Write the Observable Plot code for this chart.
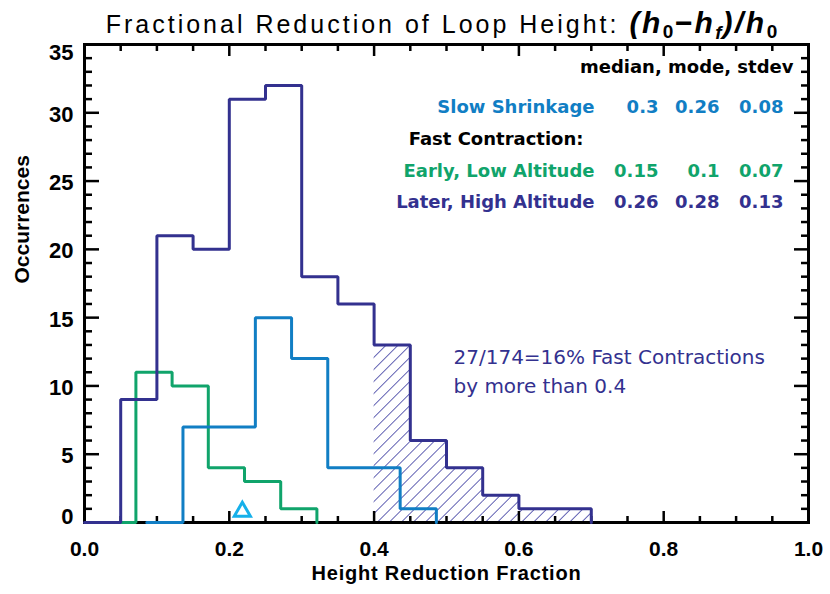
<!DOCTYPE html>
<html>
<head>
<meta charset="utf-8">
<script src="https://cdn.jsdelivr.net/npm/d3@7"></script>
<script src="https://cdn.jsdelivr.net/npm/@observablehq/plot@0.6"></script>
<style>
  html, body { margin: 0; padding: 0; background: #fff; }
  #title {
    width: 830px; height: 40px; box-sizing: border-box;
    padding-top: 9px;
    text-align: center; font-family: "Liberation Sans", Arial, sans-serif;
    font-size: 25px; letter-spacing: 3px; color: #000; line-height: 28px;
    position: relative; left: 27px; overflow: visible; white-space: nowrap;
  }
  #title .f { font-style: italic; font-weight: bold; font-size: 30px; letter-spacing: 2.5px; }
  #title .s { font-size: 19px; position: relative; top: 5px; font-style: normal; letter-spacing: 1px; }
  #title .sf { font-size: 19px; position: relative; top: 6px; letter-spacing: 1px; }
  #chart svg { display: block; }
  #chart { height: 554px; overflow: hidden; }
</style>
</head>
<body>
<div id="title">Fractional Reduction of Loop Height: <span class="f">(h<span class="s">0</span>−h<span class="sf">f</span>)/h<span class="s">0</span></span></div>
<div id="chart"></div>
<script>
// ---- data ----
const laterEdges  = [0.00, 0.05, 0.10, 0.15, 0.20, 0.25, 0.30, 0.35, 0.40, 0.45, 0.50, 0.55, 0.60, 0.65, 0.70];
const laterCounts = [0, 9, 21, 20, 31, 32, 18, 16, 13, 6, 4, 2, 1, 1];
const earlyEdges  = [0.021, 0.071, 0.121, 0.171, 0.221, 0.271, 0.321];
const earlyCounts = [0, 11, 10, 4, 3, 1];
const slowEdges   = [0.086, 0.136, 0.186, 0.236, 0.286, 0.336, 0.386, 0.436, 0.486];
const slowCounts  = [0, 7, 7, 15, 12, 4, 4, 1];
const markerX = [0.218];
const markerY = [0.8];
const fastThreshold = 0.4;

const statHeader = "median, mode, stdev";
const groupNames = ["Slow Shrinkage", "Early, Low Altitude", "Later, High Altitude"];
const medians = [0.3, 0.15, 0.26];
const modes   = [0.26, 0.1, 0.28];
const stdevs  = [0.08, 0.07, 0.13];
const fastHeader = "Fast Contraction:";

const xTickLabels = [0.0, 0.2, 0.4, 0.6, 0.8, 1.0];
const yTickLabels = [0, 5, 10, 15, 20, 25, 30, 35];

const cLater = "#33318f", cSlow = "#117ec4", cEarly = "#10a46b", cMarker = "#16b0ea";

// ---- derived tables ----
function steps(edges, counts) {
  const pts = counts.map((c, i) => ({x: edges[i], y: c}));
  pts.push({x: edges[edges.length - 1], y: 0});
  return pts;
}
const laterBins = laterCounts.map((c, i) => ({x1: laterEdges[i], x2: laterEdges[i + 1], y: c}));
const hatchBins = laterBins.filter(b => b.x1 >= fastThreshold);
const fastN = d3.sum(hatchBins, b => b.y);
const totalN = d3.sum(laterCounts);
const note1 = `${fastN}/${totalN}=${Math.round(100 * fastN / totalN)}% Fast Contractions`;
const note2 = `by more than ${fastThreshold}`;

const xMinor = d3.range(0, 1.0001, 0.05).filter(v => !xTickLabels.some(t => Math.abs(t - v) < 1e-9));
const yMinor = d3.range(0, 35.5, 1).filter(v => v % 5 !== 0);

const legendFont = {fontFamily: "DejaVu Sans, Verdana, sans-serif", fontWeight: "bold", fontSize: 18};
const rowDy = [63.2, 127.2, 158.2];
const rowColor = [cSlow, cEarly, cLater];
const colDx = [-150, -89, -25];
const legendMarks = [];
legendMarks.push(Plot.text([statHeader], {text: d => d, frameAnchor: "top-right", textAnchor: "end", lineAnchor: "middle", dx: -15, dy: 23.2, fill: "#000", ...legendFont}));
legendMarks.push(Plot.text([fastHeader], {text: d => d, frameAnchor: "top-right", textAnchor: "end", lineAnchor: "middle", dx: -225, dy: 95.2, fill: "#000", ...legendFont}));
groupNames.forEach((g, i) => {
  legendMarks.push(Plot.text([g], {text: d => d, frameAnchor: "top-right", textAnchor: "end", lineAnchor: "middle", dx: -214, dy: rowDy[i], fill: rowColor[i], ...legendFont}));
  [medians[i], modes[i], stdevs[i]].forEach((v, j) => {
    legendMarks.push(Plot.text([v], {text: d => String(d), frameAnchor: "top-right", textAnchor: "end", lineAnchor: "middle", dx: colDx[j], dy: rowDy[i], fill: rowColor[i], ...legendFont}));
  });
});

const tickStyle = {fill: "none", label: null, stroke: "#000", strokeWidth: 2.5};
const labelFont = {fontFamily: "Liberation Sans, Arial, sans-serif", fontWeight: "bold", fontSize: 21};

const chart = Plot.plot({
  width: 830,
  height: 554,
  marginLeft: 84,
  marginRight: 22,
  marginTop: 4,
  marginBottom: 72,
  x: {domain: [0, 1], axis: null},
  y: {domain: [0, 35], axis: null},
  style: {background: "#fff", overflow: "visible"},
  marks: [
    // hatched region (fast contractions > 0.4)
    Plot.rectY(hatchBins, {x1: "x1", x2: "x2", y: "y", fill: "url(#hatch)", inset: 0}),
    // frame + inward ticks (drawn under the histograms)
    Plot.frame({stroke: "#000", strokeWidth: 3}),
    Plot.axisX(xTickLabels, {anchor: "bottom", tickSize: -11, ...tickStyle}),
    Plot.axisX(xMinor, {anchor: "bottom", tickSize: -6, ...tickStyle}),
    Plot.axisX(xTickLabels, {anchor: "top", tickSize: -11, ...tickStyle}),
    Plot.axisX(xMinor, {anchor: "top", tickSize: -6, ...tickStyle}),
    Plot.axisY(yTickLabels, {anchor: "left", tickSize: -15, ...tickStyle}),
    Plot.axisY(yMinor, {anchor: "left", tickSize: -8, ...tickStyle}),
    Plot.axisY(yTickLabels, {anchor: "right", tickSize: -15, ...tickStyle}),
    Plot.axisY(yMinor, {anchor: "right", tickSize: -8, ...tickStyle}),
    // histograms
    Plot.line(steps(earlyEdges, earlyCounts), {x: "x", y: "y", curve: "step-after", stroke: cEarly, strokeWidth: 3, strokeLinejoin: "miter"}),
    Plot.line(steps(slowEdges, slowCounts), {x: "x", y: "y", curve: "step-after", stroke: cSlow, strokeWidth: 3, strokeLinejoin: "miter"}),
    Plot.line(steps(laterEdges, laterCounts), {x: "x", y: "y", curve: "step-after", stroke: cLater, strokeWidth: 3, strokeLinejoin: "miter"}),
    // marker
    Plot.dot(markerX.map((x, i) => ({x, y: markerY[i]})), {x: "x", y: "y", symbol: "triangle", r: 6, stroke: cMarker, strokeWidth: 3, fill: "none"}),
    // tick labels
    Plot.axisX(xTickLabels, {anchor: "bottom", tickSize: 0, tickPadding: 18.5, tickFormat: d3.format(".1f"), label: null, fill: "#000", ...labelFont}),
    Plot.axisY(yTickLabels.filter(v => v > 0 && v < 35), {anchor: "left", tickSize: 0, tickPadding: 11, dy: 2, label: null, fill: "#000", ...labelFont, fontSize: 22}),
    Plot.axisY([yTickLabels[0]], {anchor: "left", tickSize: 0, tickPadding: 11, dy: -6, label: null, fill: "#000", ...labelFont, fontSize: 22}),
    Plot.axisY([yTickLabels[yTickLabels.length - 1]], {anchor: "left", tickSize: 0, tickPadding: 11, dy: 8, label: null, fill: "#000", ...labelFont, fontSize: 22}),
    // axis titles
    Plot.text(["Height Reduction Fraction"], {text: d => d, frameAnchor: "bottom", lineAnchor: "middle", dy: 50.6, fill: "#000", fontFamily: "Liberation Sans, Arial, sans-serif", fontWeight: "bold", fontSize: 20}),
    Plot.text(["Occurrences"], {text: d => d, frameAnchor: "left", lineAnchor: "middle", rotate: -90, dx: -62, fill: "#000", fontFamily: "Liberation Sans, Arial, sans-serif", fontWeight: "bold", fontSize: 21}),
    // annotation
    Plot.text([note1], {text: d => d, frameAnchor: "top-left", textAnchor: "start", lineAnchor: "middle", dx: 369, dy: 312.6, fill: cLater, fontFamily: "DejaVu Sans, Verdana, sans-serif", fontSize: 20}),
    Plot.text([note2], {text: d => d, frameAnchor: "top-left", textAnchor: "start", lineAnchor: "middle", dx: 369, dy: 341.6, fill: cLater, fontFamily: "DejaVu Sans, Verdana, sans-serif", fontSize: 20}),
    ...legendMarks
  ]
});

// hatch pattern definition: thin "/" lines (vertical lines rotated by 45°)
const svg = d3.select(chart);
const hs = 8.5;
const pat = svg.insert("defs", ":first-child").append("pattern")
  .attr("id", "hatch").attr("patternUnits", "userSpaceOnUse")
  .attr("width", hs).attr("height", hs)
  .attr("patternTransform", "rotate(45)");
pat.append("line")
  .attr("x1", hs / 2).attr("y1", -1).attr("x2", hs / 2).attr("y2", hs + 1)
  .attr("stroke", "#5c5cb0").attr("stroke-width", 1);
// slight letter spacing for the x-axis title, as in the reference
svg.selectAll("text").filter(function() { return this.textContent === "Height Reduction Fraction"; })
  .attr("letter-spacing", "0.8px");

document.getElementById("chart").appendChild(chart);
</script>
</body>
</html>
